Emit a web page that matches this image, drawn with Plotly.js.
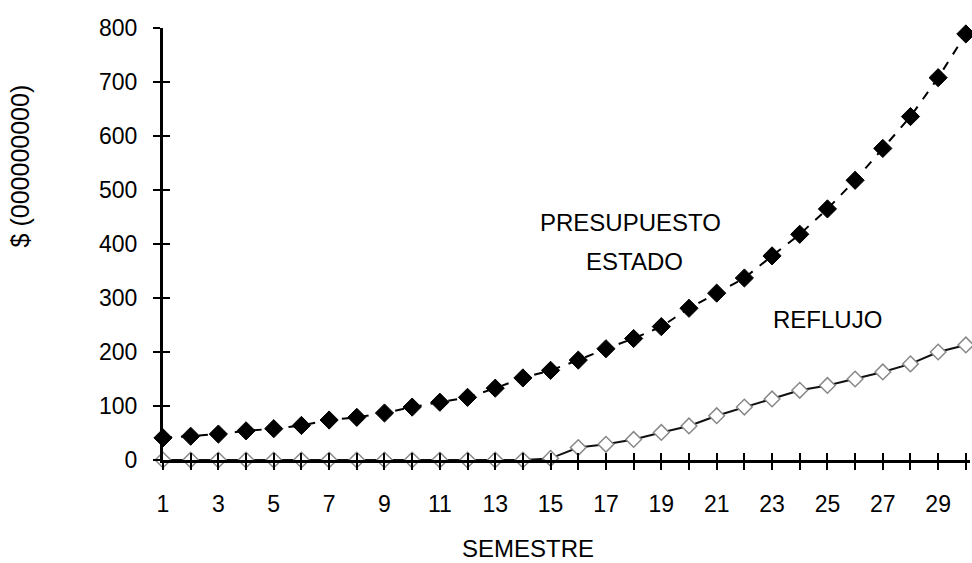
<!DOCTYPE html>
<html>
<head>
<meta charset="utf-8">
<script src="https://cdn.plot.ly/plotly-3.0.1.min.js"></script>
<style>html,body{margin:0;padding:0;background:#fff;}#chart{width:972px;height:563px;}</style>
</head>
<body>
<div id="chart"></div>
<script>
// Semesters
const semestre = [1,2,3,4,5,6,7,8,9,10,11,12,13,14,15,16,17,18,19,20,21,22,23,24,25,26,27,28,29,30];
// PRESUPUESTO ESTADO ($ 000000000)
const presupuesto = [41,44,48,54,58,64,74,79,87,98,107,116,133,152,166,185,206,225,247,281,309,337,378,418,465,518,577,636,708,789];
// REFLUJO ($ 000000000)
const reflujo = [0,0,0,0,0,0,0,0,0,0,0,0,0,0,3,23,29,38,51,63,82,98,113,129,138,150,163,178,200,213];
// Tick labels
const yTickVals = [0,100,200,300,400,500,600,700,800];
const yTickText = ['0','100','200','300','400','500','600','700','800'];
const xTickVals = semestre;
const xTickText = semestre.map(v => (v % 2 === 1 ? String(v) : ''));
// Texts
const yTitle = '$ (000000000)';
const xTitle = 'SEMESTRE';
const label1a = 'PRESUPUESTO';
const label1b = 'ESTADO';
const label2 = 'REFLUJO';

const FONT = 'Liberation Sans, Arial, sans-serif';
const INK = '#000';

const traces = [
  {
    x: semestre, y: presupuesto, type: 'scatter', mode: 'lines+markers', name: label1a + ' ' + label1b,
    cliponaxis: false,
    line: {color: '#000', width: 2, dash: 'dash'},
    marker: {symbol: 'diamond', size: 14, color: '#000', line: {color: '#000', width: 1}}
  },
  {
    x: semestre, y: reflujo, type: 'scatter', mode: 'lines+markers', name: label2,
    xaxis: 'x2', yaxis: 'y2',
    cliponaxis: false,
    line: {color: '#111', width: 2},
    marker: {symbol: 'diamond', size: 12, color: '#ffffff', line: {color: '#888', width: 1.5}}
  }
];

const axFont = {family: FONT, size: 23, color: INK};

const layout = {
  width: 972, height: 563,
  margin: {l: 163, r: 2, t: 28, b: 103},
  paper_bgcolor: '#ffffff', plot_bgcolor: '#ffffff',
  showlegend: false,
  xaxis: {
    range: [1, 30.15], showgrid: false, zeroline: false,
    showline: true, linecolor: INK, linewidth: 3,
    tickmode: 'array', tickvals: xTickVals, ticktext: xTickText,
    ticks: 'outside', ticklen: 7, tickwidth: 2, tickcolor: INK,
    ticklabelstandoff: 14,
    tickfont: axFont
  },
  yaxis: {
    range: [0, 800], showgrid: false, zeroline: false,
    showline: true, linecolor: INK, linewidth: 3,
    tickmode: 'array', tickvals: yTickVals, ticktext: yTickText,
    ticks: 'outside', ticklen: 7, tickwidth: 2, tickcolor: INK,
    ticklabelstandoff: 11,
    tickfont: axFont
  },
  xaxis2: {
    overlaying: 'x', anchor: 'y2', side: 'bottom', range: [1, 30.15],
    showgrid: false, zeroline: false, showline: false, showticklabels: false,
    tickmode: 'array', tickvals: xTickVals,
    ticks: 'inside', ticklen: 7, tickwidth: 2, tickcolor: INK
  },
  yaxis2: {
    overlaying: 'y', anchor: 'x2', side: 'left', range: [0, 800],
    showgrid: false, zeroline: false, showline: false, showticklabels: false,
    tickmode: 'array', tickvals: yTickVals,
    ticks: 'inside', ticklen: 7, tickwidth: 2, tickcolor: INK
  },
  annotations: [
    {text: label1a, x: 17.89, y: 439, xref: 'x', yref: 'y', showarrow: false,
     xanchor: 'center', yanchor: 'middle', font: {family: FONT, size: 24, color: INK}},
    {text: label1b, x: 18.03, y: 368, xref: 'x', yref: 'y', showarrow: false,
     xanchor: 'center', yanchor: 'middle', font: {family: FONT, size: 24, color: INK}},
    {text: label2, x: 25.0, y: 261, xref: 'x', yref: 'y', showarrow: false,
     xanchor: 'center', yanchor: 'middle', font: {family: FONT, size: 24, color: INK}},
    {text: xTitle, x: 0.452, y: -0.204, xref: 'paper', yref: 'paper', showarrow: false,
     xanchor: 'center', yanchor: 'middle', font: {family: FONT, size: 24, color: INK}},
    {text: yTitle, x: -0.177, y: 0.68, xref: 'paper', yref: 'paper', showarrow: false,
     textangle: -90, xanchor: 'center', yanchor: 'middle', font: {family: FONT, size: 25, color: INK}}
  ]
};

Plotly.newPlot('chart', traces, layout, {staticPlot: true, displayModeBar: false});
</script>
</body>
</html>
